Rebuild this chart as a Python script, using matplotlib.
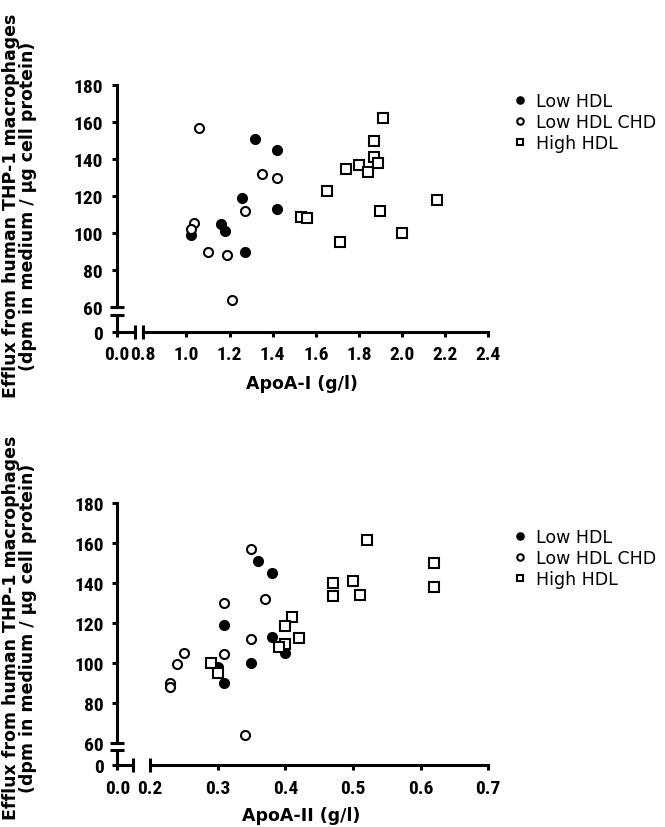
import matplotlib
matplotlib.use("Agg")
import matplotlib.pyplot as plt

W, H = 665, 828

# ApoA-I vs efflux
apoa1_low = [1.02, 1.16, 1.18, 1.26, 1.27, 1.32, 1.42, 1.42]
eff1_low = [99, 105, 101, 119, 90, 151, 145, 113]
apoa1_chd = [1.06, 1.035, 1.02, 1.10, 1.19, 1.21, 1.27, 1.35, 1.42]
eff1_chd = [157, 105.5, 102.5, 90, 88, 64, 112, 132, 130]
apoa1_high = [1.53, 1.56, 1.65, 1.71, 1.74, 1.80, 1.84, 1.87, 1.87, 1.89, 1.91, 1.90, 2.00, 2.16]
eff1_high = [109, 108, 123, 95, 134.5, 137, 133, 150, 141, 138, 162, 112, 100, 118]

# ApoA-II vs efflux
apoa2_low = [0.36, 0.38, 0.31, 0.38, 0.35, 0.40, 0.30, 0.31]
eff2_low = [151, 145, 119, 113, 100, 105, 98, 90]
apoa2_chd = [0.35, 0.37, 0.31, 0.35, 0.31, 0.25, 0.24, 0.23, 0.23, 0.34]
eff2_chd = [157, 132, 130, 112, 104.5, 105, 99.5, 90, 88, 64]
apoa2_high = [0.52, 0.62, 0.62, 0.47, 0.47, 0.50, 0.51, 0.41, 0.40, 0.42, 0.40, 0.39, 0.29, 0.30]
eff2_high = [161.5, 150, 138, 140, 133.5, 141, 134, 123, 118.5, 112.5, 109.5, 108, 100, 95]

group_names = ["Low HDL", "Low HDL CHD", "High HDL"]
y_ticks = [60, 80, 100, 120, 140, 160, 180]
x1_ticks = [0.8, 1.0, 1.2, 1.4, 1.6, 1.8, 2.0, 2.2, 2.4]
x2_ticks = [0.2, 0.3, 0.4, 0.5, 0.6, 0.7]

ylabel = "Efflux from human THP-1 macrophages\n(dpm in medium / \u00b5g cell protein)"
LW = 2.2
tick_font = ["Roboto Condensed", "DejaVu Sans"]


def panel(fig, box, x_ticks, x_zero, x_brk, y_zero, y_brk, series, leg_xy):
    # box = left, top, right, bottom in pixels
    l, t, r, b = box
    ax = fig.add_axes([l / W, 1 - b / H, (r - l) / W, (b - t) / H])

    styles = [dict(marker="o", mfc="black", mec="black"),
              dict(marker="o", mfc="white", mec="black"),
              dict(marker="s", mfc="white", mec="black")]
    for (xs, ys), st, name in zip(series, styles, group_names):
        ax.plot(xs, ys, ls="none", ms=6.5, mew=1.5, clip_on=False, label=name, zorder=3, **st)

    ax.set_xlim(x_zero, x_ticks[-1])
    ax.set_ylim(y_zero, y_ticks[-1])

    for s in ["top", "right"]:
        ax.spines[s].set_visible(False)
    ax.spines["left"].set_bounds(y_ticks[0], y_ticks[-1])
    ax.spines["bottom"].set_bounds(x_ticks[0], x_ticks[-1])
    ax.spines["left"].set_linewidth(LW)
    ax.spines["bottom"].set_linewidth(LW)

    # short axis pieces below / left of the breaks
    ax.plot([x_zero, x_zero], [y_zero, y_brk], color="black", lw=LW, clip_on=False, solid_capstyle="butt")
    ax.plot([x_zero, x_brk], [y_zero, y_zero], color="black", lw=LW, clip_on=False, solid_capstyle="butt")
    ax.plot([x_zero, x_zero], [y_ticks[0], y_brk], ls="none", marker="_", ms=10, mew=LW,
            color="black", clip_on=False)
    ax.plot([x_brk, x_ticks[0]], [y_zero, y_zero], ls="none", marker="|", ms=10, mew=LW,
            color="black", clip_on=False)

    ax.set_yticks([y_zero] + y_ticks, labels=["0"] + [str(v) for v in y_ticks])
    ax.set_xticks([x_zero] + x_ticks, labels=["0.0"] + ["%.1f" % v for v in x_ticks])
    ax.tick_params(direction="out", length=3.8, width=LW)
    ax.tick_params(axis="y", pad=6)
    ax.tick_params(axis="x", pad=6)
    for lab in ax.get_xticklabels() + ax.get_yticklabels():
        lab.set_family(tick_font)
        lab.set_weight("bold")
        lab.set_size(14)

    ax.legend(loc="upper left", bbox_to_anchor=(leg_xy[0] / W, 1 - leg_xy[1] / H),
              bbox_transform=fig.transFigure, frameon=False,
              prop={"family": "DejaVu Sans", "size": 12.5},
              handlelength=0.8, handletextpad=0.5, labelspacing=0.18,
              borderaxespad=0, borderpad=0, markerscale=0.72)
    return ax


fig = plt.figure(figsize=(W / 100, H / 100), dpi=100)

panel(fig, (116.7, 86, 488.3, 332.7), x1_ticks, 0.6766, 0.7615, 46.83, 55.84,
      [(apoa1_low, eff1_low), (apoa1_chd, eff1_chd), (apoa1_high, eff1_high)], (513, 93))
panel(fig, (117.3, 504.3, 488.3, 766), x2_ticks, 0.1517, 0.1753, 48.99, 56.5,
      [(apoa2_low, eff2_low), (apoa2_chd, eff2_chd), (apoa2_high, eff2_high)], (513, 529))

lab_kw = dict(family="DejaVu Sans", weight="bold", size=12.5, ha="center", va="center")
fig.text(302 / W, 1 - 384 / H, "ApoA-I (g/l)", **lab_kw)
fig.text(301 / W, 1 - 816 / H, "ApoA-II (g/l)", **lab_kw)
fig.text(19.5 / W, 1 - 206 / H, ylabel, rotation=90, linespacing=0.9, **lab_kw)
fig.text(19.5 / W, 1 - 628 / H, ylabel, rotation=90, linespacing=0.9, **lab_kw)

fig.savefig("out.png", dpi=100)
